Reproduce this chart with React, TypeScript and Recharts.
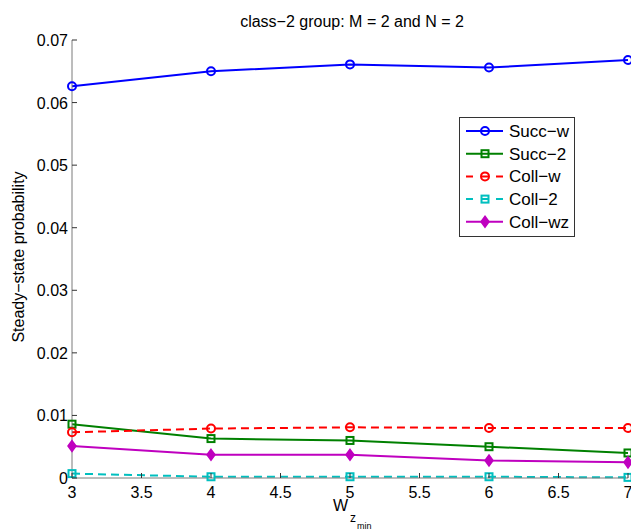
import React from 'react';
import { LineChart, Line, XAxis, YAxis } from 'recharts';

const xValues = [3, 4, 5, 6, 7];
const succW = [0.0626, 0.065, 0.0661, 0.0656, 0.0668];
const succ2 = [0.0086, 0.0063, 0.006, 0.005, 0.004];
const collW = [0.0073, 0.0079, 0.0081, 0.008, 0.008];
const coll2 = [0.0007, 0.0002, 0.0002, 0.0002, 0.0001];
const collWz = [0.0051, 0.0037, 0.0037, 0.0028, 0.0025];

const xTicks = [3, 3.5, 4, 4.5, 5, 5.5, 6, 6.5, 7];
const yTicks = [0, 0.01, 0.02, 0.03, 0.04, 0.05, 0.06, 0.07];
const yTickLabels = ['0', '0.01', '0.02', '0.03', '0.04', '0.05', '0.06', '0.07'];

const seriesNames = ['Succ\u2212w', 'Succ\u22122', 'Coll\u2212w', 'Coll\u22122', 'Coll\u2212wz'];
const titleText = 'class\u22122 group: M = 2 and N = 2';
const yLabelText = 'Steady\u2212state probability';

const data = xValues.map((x, i) => ({
  x,
  succW: succW[i],
  succ2: succ2[i],
  collW: collW[i],
  coll2: coll2[i],
  collWz: collWz[i],
}));

const FONT = '"Liberation Sans", Arial, Helvetica, sans-serif';
const AXIS = '#7a7a7a';
const TICK = '#333';
const FS = 16;

type Shape = 'circle' | 'square' | 'diamond';

const series: { key: string; name: string; color: string; dash?: string; shape: Shape }[] = [
  { key: 'succW', name: seriesNames[0], color: '#0000ff', shape: 'circle' },
  { key: 'succ2', name: seriesNames[1], color: '#008000', shape: 'square' },
  { key: 'collW', name: seriesNames[2], color: '#ff0000', dash: '8 5', shape: 'circle' },
  { key: 'coll2', name: seriesNames[3], color: '#00bfbf', dash: '8 5', shape: 'square' },
  { key: 'collWz', name: seriesNames[4], color: '#bf00bf', shape: 'diamond' },
];

const marker = (shape: Shape, color: string, cx: number, cy: number, key?: any) => {
  if (shape === 'circle')
    return <circle key={key} cx={cx} cy={cy} r={4} fill="none" stroke={color} strokeWidth={2} />;
  if (shape === 'square')
    return <rect key={key} x={cx - 3.5} y={cy - 3.5} width={7} height={7} fill="none" stroke={color} strokeWidth={2} />;
  return (
    <path key={key} d={`M${cx},${cy - 5.5}L${cx + 4},${cy}L${cx},${cy + 5.5}L${cx - 4},${cy}Z`} fill={color} stroke={color} strokeWidth={1.5} />
  );
};

const makeDot = (shape: Shape, color: string) => (props: any) => {
  const { cx, cy, index } = props;
  if (cx == null || cy == null) return <g key={index} />;
  return marker(shape, color, cx, cy, index);
};

const BottomTick = (props: any) => {
  const { x, y, payload } = props;
  return (
    <g>
      <line x1={x} x2={x} y1={y} y2={y - 5} stroke={TICK} />
      <text x={x} y={y + 20} textAnchor="middle" fontSize={FS} fontFamily={FONT} fill="#000">
        {payload.value}
      </text>
    </g>
  );
};
const TopTick = (props: any) => {
  const { x, y } = props;
  return <line x1={x} x2={x} y1={y} y2={y + 5} stroke={TICK} />;
};
const LeftTick = (props: any) => {
  const { x, y, payload } = props;
  return (
    <g>
      <line x1={x} x2={x + 5} y1={y} y2={y} stroke={TICK} />
      <text x={x - 4} y={y + 6} textAnchor="end" fontSize={FS} fontFamily={FONT} fill="#000">
        {yTickLabels[yTicks.indexOf(payload.value)] ?? String(payload.value)}
      </text>
    </g>
  );
};
const RightTick = (props: any) => {
  const { x, y } = props;
  return <line x1={x} x2={x - 5} y1={y} y2={y} stroke={TICK} />;
};

const LegendBox = () => (
  <div
    style={{
      position: 'absolute',
      left: 459,
      top: 117,
      width: 116,
      height: 120,
      border: '1px solid #333',
      background: '#fff',
      boxSizing: 'border-box',
      fontFamily: FONT,
      zIndex: 3,
    }}
  >
    <svg width={116} height={120} style={{ position: 'absolute', left: -1, top: -1 }}>
      {series.map((s, i) => {
        const y = 14 + i * 22.7;
        return (
          <g key={s.key}>
            <line x1={7} x2={44} y1={y} y2={y} stroke={s.color} strokeWidth={2} strokeDasharray={s.dash ? '7 8' : undefined} />
            {marker(s.shape, s.color, 26, y)}
            <text x={50} y={y + 6} fontSize={17} fontFamily={FONT} fill="#000">
              {s.name}
            </text>
          </g>
        );
      })}
    </svg>
  </div>
);

const XLabel = (props: any) => {
  const { viewBox } = props;
  const cx = viewBox.x + viewBox.width / 2;
  return (
    <text x={cx - 17} y={511} fontSize={FS} fontFamily={FONT} fill="#000">
      W
      <tspan x={cx - 0} y={522} fontSize={12}>z</tspan>
      <tspan x={cx + 7} y={529} fontSize={9}>min</tspan>
    </text>
  );
};

export default function App() {
  return (
    <div style={{ position: 'absolute', left: 0, top: 0, width: 631, height: 532, background: '#fff', overflow: 'hidden' }}>
      <LineChart width={631} height={532} data={data} margin={{ top: 40, right: 3, left: 0, bottom: 0 }}>
        <XAxis
          xAxisId="bottom"
          dataKey="x"
          type="number"
          domain={[3, 7]}
          ticks={xTicks}
          height={54}
          tickSize={0}
          tickMargin={0}
          tickLine={false}
          axisLine={{ stroke: AXIS }}
          tick={BottomTick}
          interval={0}
          label={<XLabel />}
        />
        <XAxis
          xAxisId="top"
          orientation="top"
          dataKey="x"
          type="number"
          domain={[3, 7]}
          ticks={xTicks}
          height={0}
          tickSize={0}
          tickMargin={0}
          tickLine={false}
          axisLine={{ stroke: AXIS }}
          tick={TopTick}
          interval={0}
        />
        <YAxis
          yAxisId="left"
          type="number"
          domain={[0, 0.07]}
          ticks={yTicks}
          width={72}
          tickSize={0}
          tickMargin={0}
          tickLine={false}
          axisLine={{ stroke: AXIS }}
          tick={LeftTick}
          interval={0}
        />
        <YAxis
          yAxisId="right"
          orientation="right"
          type="number"
          domain={[0, 0.07]}
          ticks={yTicks}
          width={0}
          tickSize={0}
          tickMargin={0}
          tickLine={false}
          axisLine={{ stroke: AXIS }}
          tick={RightTick}
          interval={0}
        />
        {series.map((s) => (
          <Line
            key={s.key}
            xAxisId="bottom"
            yAxisId="left"
            dataKey={s.key}
            name={s.name}
            stroke={s.color}
            strokeWidth={2}
            strokeDasharray={s.dash}
            dot={makeDot(s.shape, s.color)}
            activeDot={false}
            isAnimationActive={false}
          />
        ))}
      </LineChart>
      <svg width={631} height={532} style={{ position: 'absolute', left: 0, top: 0, pointerEvents: 'none', zIndex: 2 }}>
        <text x={352} y={27} textAnchor="middle" fontSize={FS} fontFamily={FONT} fill="#000">
          {titleText}
        </text>
        <text
          x={24}
          y={257}
          textAnchor="middle"
          fontSize={FS}
          fontFamily={FONT}
          fill="#000"
          transform="rotate(-90 24 257)"
        >
          {yLabelText}
        </text>
      </svg>
      <LegendBox />
    </div>
  );
}
